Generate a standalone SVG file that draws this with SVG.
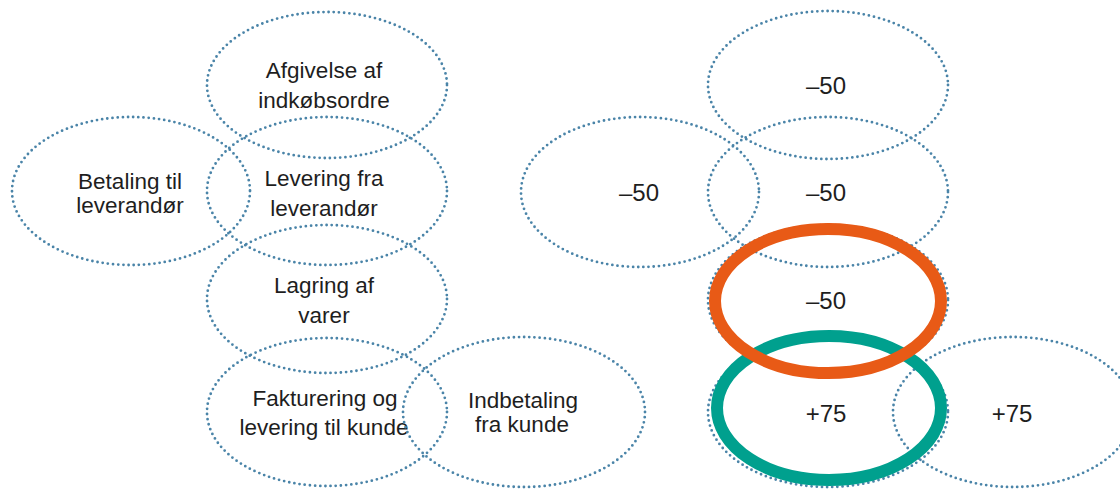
<svg xmlns="http://www.w3.org/2000/svg" width="1120" height="489" viewBox="0 0 1120 489">
<style>
.dot{fill:none;stroke:#4a84a8;stroke-width:2.8;stroke-dasharray:0 5.2;stroke-linecap:round}
.t{font-family:"Liberation Sans",Arial,sans-serif;font-size:22.5px;fill:#1e1e1e;text-anchor:middle}
.n{font-family:"Liberation Sans",Arial,sans-serif;font-size:24px;fill:#1e1e1e;text-anchor:middle}
</style>
<rect width="1120" height="489" fill="#ffffff"/>
<g id="left">
<g id="afgivelse"><ellipse class="dot" cx="327" cy="85" rx="120" ry="73"/><text class="t" x="324" y="78">Afgivelse af</text><text class="t" x="324" y="108">indkøbsordre</text></g>
<g id="betaling"><ellipse class="dot" cx="131" cy="191" rx="119" ry="74"/><text class="t" x="130" y="189">Betaling til</text><text class="t" x="130" y="213">leverandør</text></g>
<g id="levering"><ellipse class="dot" cx="327" cy="191" rx="120" ry="74"/><text class="t" x="324" y="186">Levering fra</text><text class="t" x="324" y="216">leverandør</text></g>
<g id="lagring"><ellipse class="dot" cx="327" cy="299" rx="120" ry="74"/><text class="t" x="324" y="293">Lagring af</text><text class="t" x="324" y="323">varer</text></g>
<g id="fakturering"><ellipse class="dot" cx="327" cy="412" rx="120" ry="74"/><text class="t" x="325" y="406">Fakturering og</text><text class="t" x="324" y="435">levering til kunde</text></g>
<g id="indbetaling"><ellipse class="dot" cx="524" cy="412" rx="121" ry="75"/><text class="t" x="523" y="408">Indbetaling</text><text class="t" x="522" y="432">fra kunde</text></g>
</g>
<g id="right">
<g id="r-afgivelse"><ellipse class="dot" cx="828" cy="85" rx="120" ry="74"/><text class="n" x="826" y="94">–50</text></g>
<g id="r-betaling"><ellipse class="dot" cx="640" cy="192" rx="119" ry="75"/><text class="n" x="639" y="201">–50</text></g>
<g id="r-levering"><ellipse class="dot" cx="828" cy="192" rx="120" ry="75"/><text class="n" x="826" y="201">–50</text></g>
<g id="r-lagring"><ellipse class="dot" cx="828" cy="300" rx="120" ry="75"/></g>
<g id="r-fakturering"><ellipse class="dot" cx="828" cy="412" rx="120" ry="75"/></g>
<g id="r-indbetaling"><ellipse class="dot" cx="1013" cy="412" rx="120" ry="75"/><text class="n" x="1012" y="422">+75</text></g>
<g id="teal"><ellipse cx="829" cy="408" rx="112" ry="72" fill="none" stroke="#00a08e" stroke-width="12"/><text class="n" x="826" y="422">+75</text></g>
<g id="orange"><ellipse cx="828" cy="301" rx="113" ry="72" fill="none" stroke="#e85a16" stroke-width="12"/><text class="n" x="826" y="309">–50</text></g>
</g>
<g id="connectors"></g>
</svg>
